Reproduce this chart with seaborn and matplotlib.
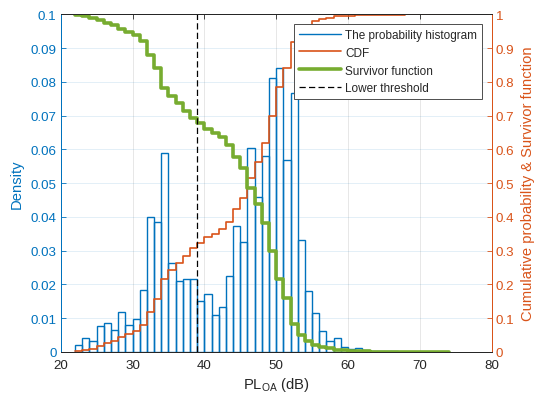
import numpy as np
import pandas as pd
import matplotlib
matplotlib.use("Agg")
import matplotlib.pyplot as plt
from matplotlib.lines import Line2D
from matplotlib.ticker import FuncFormatter
import seaborn as sns

# Path loss bins (left edges, 1 dB wide) and the probability density per bin
bin_left_db = list(range(22, 74))
density = [
    0.0021, 0.0041, 0.0033, 0.0076, 0.0087, 0.0066, 0.0118, 0.0080, 0.0098, 0.0183,
    0.0399, 0.0385, 0.0588, 0.0264, 0.0209, 0.0217, 0.0217, 0.0152, 0.0172, 0.0110,
    0.0134, 0.0224, 0.0372, 0.0325, 0.0604, 0.0459, 0.0580, 0.0812, 0.0840, 0.0568,
    0.0767, 0.0333, 0.0182, 0.0116, 0.0063, 0.0034, 0.0041, 0.0016, 0.0009, 0.0013,
    0.0007, 0.0004, 0.0003, 0.0002, 0.0002, 0.0001, 0.0001, 0.0001, 0.0001, 0.0001,
    0.0001, 0.0001,
]
lower_threshold_db = 39
x_ticks = [20, 30, 40, 50, 60, 70, 80]

BLUE = "#0072BD"
ORANGE = "#D95319"
GREEN = "#77AC30"
DARK = "#262626"

sns.set_style("white")
plt.rcParams["font.family"] = ["Liberation Sans", "DejaVu Sans"]
plt.rcParams["mathtext.fontset"] = "custom"
plt.rcParams["mathtext.rm"] = "Liberation Sans"

edges = bin_left_db + [bin_left_db[-1] + 1]
hist_df = pd.DataFrame({"pl": [b + 0.5 for b in bin_left_db], "density": density})

cdf = np.cumsum(density) / np.sum(density)
step_x = bin_left_db + [edges[-1]]
step_cdf = list(cdf) + [1.0]
step_surv = [1.0 - v for v in step_cdf]
lines_df = pd.DataFrame({"pl": step_x, "cdf": step_cdf, "surv": step_surv})

fig = plt.figure(figsize=(5.36, 4.02), dpi=100)
ax = fig.add_axes([0.1132, 0.1219, 0.8041, 0.8400])
ax2 = ax.twinx()

# Grid (drawn under everything)
ax.set_axisbelow(True)
ax.grid(True, axis="x", color=DARK, alpha=0.13, lw=0.6)
ax.grid(True, axis="y", color=BLUE, alpha=0.13, lw=0.6)

sns.histplot(data=hist_df, x="pl", weights="density", bins=edges, fill=False,
             color=BLUE, linewidth=1.0, ax=ax)

sns.lineplot(data=lines_df, x="pl", y="cdf", drawstyle="steps-post", color=ORANGE,
             linewidth=1.2, sort=False, estimator=None, ax=ax2)
sns.lineplot(data=lines_df, x="pl", y="surv", drawstyle="steps-post", color=GREEN,
             linewidth=2.6, sort=False, estimator=None, ax=ax2)
ax2.axvline(lower_threshold_db, color="k", lw=0.9, dashes=(5.0, 2.6))

ax.set_xlim(20, 80)
ax.set_ylim(0, 0.1)
ax2.set_ylim(0, 1)
ax.set_xticks(x_ticks)
ax.set_yticks(np.linspace(0, 0.1, 11))
ax2.set_yticks(np.linspace(0, 1, 11))
ax.yaxis.set_major_formatter(FuncFormatter(lambda v, p: f"{round(v, 3):g}"))
ax2.yaxis.set_major_formatter(FuncFormatter(lambda v, p: f"{round(v, 2):g}"))

fs = 9.6
lfs = 10.6
ax.set_xlabel(r"PL$_{\mathrm{OA}}$ (dB)", fontsize=lfs, color=DARK, labelpad=3)
ax.set_ylabel("Density", fontsize=lfs, color=BLUE, labelpad=5)
ax2.set_ylabel("Cumulative probability & Survivor function", fontsize=lfs,
               color=ORANGE, labelpad=5)

ax.tick_params(axis="x", direction="in", length=3.5, width=0.6, colors=DARK,
               labelsize=fs, top=True, pad=5)
ax.tick_params(axis="y", direction="in", length=3.5, width=0.6, colors=BLUE,
               labelsize=fs, pad=3)
ax2.tick_params(axis="y", direction="in", length=3.5, width=0.6, colors=ORANGE,
                labelsize=fs, pad=3)

for a in (ax, ax2):
    for s in a.spines.values():
        s.set_linewidth(0.7)
    a.spines["top"].set_color(DARK)
    a.spines["bottom"].set_color(DARK)
    a.spines["left"].set_color(BLUE)
    a.spines["right"].set_color(ORANGE)
    a.spines["top"].set_visible(True)
    a.spines["right"].set_visible(True)

handles = [
    Line2D([], [], color=BLUE, lw=1.0),
    Line2D([], [], color=ORANGE, lw=1.2),
    Line2D([], [], color=GREEN, lw=2.6),
    Line2D([], [], color="k", lw=0.9, dashes=(5.0, 2.6)),
]
labels = ["The probability histogram", "CDF", "Survivor function", "Lower threshold"]
leg = ax2.legend(handles, labels, loc="upper right", bbox_to_anchor=(0.8987, 0.9378),
                 bbox_transform=fig.transFigure, borderaxespad=0, fontsize=8.5,
                 frameon=True, fancybox=False, framealpha=1, edgecolor="#4d4d4d",
                 handlelength=3.6, handletextpad=0.3, labelspacing=0.5,
                 borderpad=0.4)
leg.get_frame().set_linewidth(0.7)

fig.savefig("out.png", dpi=100)
